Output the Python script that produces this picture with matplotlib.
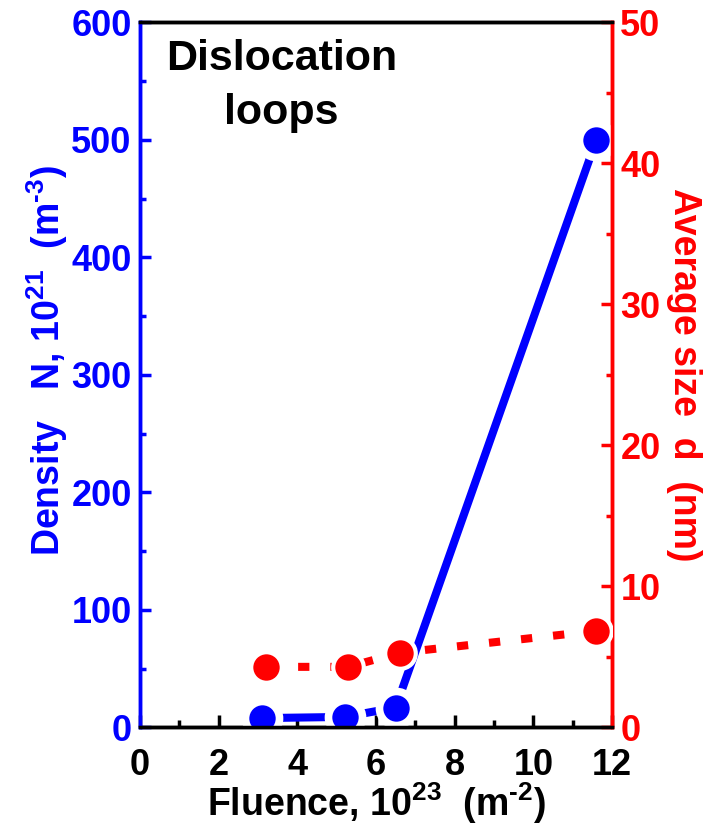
import matplotlib
matplotlib.use("Agg")
import matplotlib.pyplot as plt
from matplotlib.ticker import MultipleLocator

plt.rcParams['font.family'] = ['Liberation Sans', 'DejaVu Sans']
plt.rcParams['font.weight'] = 'bold'
plt.rcParams['mathtext.fontset'] = 'custom'
plt.rcParams['mathtext.rm'] = 'Liberation Sans:bold'
plt.rcParams['mathtext.default'] = 'rm'

# Data
fluence_N = [3.1, 5.2, 6.5, 11.6]
density_N = [8, 9, 17, 500]
fluence_d = [3.2, 5.3, 6.6, 11.6]
size_d = [4.3, 4.3, 5.3, 6.85]

x_ticks = [0, 2, 4, 6, 8, 10, 12]
left_ticks = [0, 100, 200, 300, 400, 500, 600]
right_ticks = [0, 10, 20, 30, 40, 50]

BLUE = '#0000ff'
RED = '#ff0000'

fig = plt.figure(figsize=(7.17, 8.30), dpi=100)
ax = fig.add_axes([0.1953, 0.1235, 0.6583, 0.8495])
ax2 = ax.twinx()

lw = 5.8
ms = 19

# Blue series: solid line with gaps around markers
ax.plot(fluence_N, density_N, '-', color=BLUE, lw=lw, solid_capstyle='butt', zorder=2)
ax.plot(fluence_N, density_N, 'o', color='white', ms=ms + 11, mec='none', zorder=3)
ax.plot(fluence_N, density_N, 'o', color=BLUE, ms=ms, mec='none', zorder=4)

# Red series: dashed
ax2.plot(fluence_d, size_d, color=RED, lw=lw, dashes=(1.4, 2.6), dash_capstyle='butt',
         zorder=2)
ax2.plot(fluence_d, size_d, 'o', color='white', ms=ms + 6, mec='none', zorder=3)
ax2.plot(fluence_d, size_d, 'o', color=RED, ms=ms, mec='none', zorder=4)

ax.set_xlim(0, 12)
ax.set_ylim(0, 600)
ax2.set_ylim(0, 50)

ax.set_xticks(x_ticks)
ax.set_xticklabels([str(v) for v in x_ticks])
ax.xaxis.set_minor_locator(MultipleLocator(1))
ax.set_yticks(left_ticks)
ax.set_yticklabels([str(v) for v in left_ticks])
ax.yaxis.set_minor_locator(MultipleLocator(50))
ax2.set_yticks(right_ticks)
ax2.set_yticklabels([str(v) for v in right_ticks])
ax2.yaxis.set_minor_locator(MultipleLocator(5))

for a in (ax, ax2):
    for s in a.spines.values():
        s.set_linewidth(2.5)
        s.set_color('black')
ax.spines['left'].set_color(BLUE)
ax2.spines['left'].set_color(BLUE)
ax.spines['right'].set_color(RED)
ax2.spines['right'].set_color(RED)

ax.tick_params(axis='x', which='major', direction='in', length=9, width=2.5,
               labelsize=26, pad=15, top=False, colors='black')
ax.tick_params(axis='x', which='minor', direction='in', length=5, width=2.5, top=False)
ax.tick_params(axis='y', which='major', direction='in', length=8, width=2.5,
               labelsize=26, pad=6, color=BLUE, labelcolor=BLUE)
ax.tick_params(axis='y', which='minor', direction='in', length=4, width=2.5, color=BLUE)
ax2.tick_params(axis='y', which='major', direction='in', length=8, width=2.5,
                labelsize=26, pad=6, color=RED, labelcolor=RED)
ax2.tick_params(axis='y', which='minor', direction='in', length=4, width=2.5, color=RED)

for lab in ax.get_xticklabels() + ax.get_yticklabels() + ax2.get_yticklabels():
    lab.set_fontweight('bold')

ax.set_xlabel(r'Fluence, 10$^{23}$  (m$^{\text{-2}}$)', fontsize=27, fontweight='bold',
              color='black', labelpad=-2)
ax.set_ylabel(r'Density   N, 10$^{21}$  (m$^{\text{-3}}$)', fontsize=27, fontweight='bold',
              color=BLUE)
ax.yaxis.set_label_coords(-0.148, 0.52)
ax2.set_ylabel(r'Average size  d  (nm)', fontsize=27, fontweight='bold',
               color=RED, rotation=270, labelpad=30)

ax.text(0.30, 0.91, 'Dislocation\nloops', transform=ax.transAxes, ha='center',
        va='center', fontsize=31, fontweight='bold', linespacing=1.45)

fig.savefig('out.png', dpi=100)
